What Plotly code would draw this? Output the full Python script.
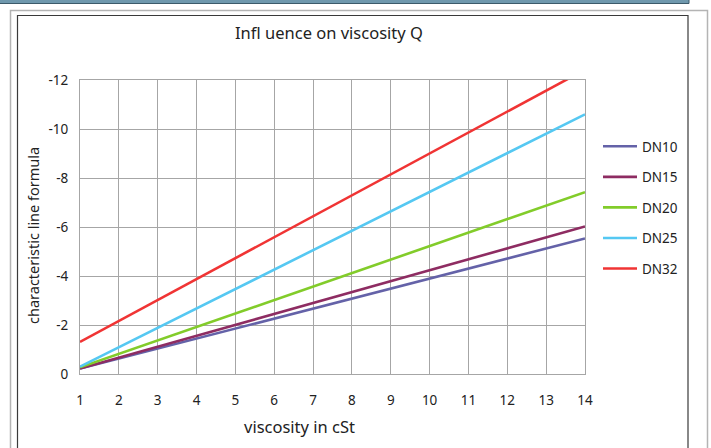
import plotly.graph_objects as go

# Data (straight lines from viscosity 1 to 14)
viscosity = [1, 14]
series_names = ["DN10", "DN15", "DN20", "DN25", "DN32"]
dn10 = [-0.22, -5.53]
dn15 = [-0.22, -6.02]
dn20 = [-0.27, -7.42]
dn25 = [-0.30, -10.6]
dn32 = [-1.31, -12.42]
series_values = [dn10, dn15, dn20, dn25, dn32]
colors = ["#6462a8", "#8e2c62", "#82cc2a", "#55c8f2", "#f03434"]

x_ticks = list(range(1, 15))
y_tickvals = [0, -2, -4, -6, -8, -10, -12]
y_ticktext = ["0", "-2", "-4", "-6", "-8", "-10", "-12"]

title_text = "Inﬂ uence on viscosity Q"
x_title = "viscosity in cSt"
y_title = "characteristic line formula"

FONT = "Noto Sans"
W, H = 711, 448
L, R, T, B = 80, 585, 80, 374  # plot area pixel edges

fig = go.Figure()
for i, (name, vals, col) in enumerate(zip(series_names, series_values, colors)):
    fig.add_trace(go.Scatter(
        x=viscosity, y=vals, mode="lines", name=name,
        line=dict(color=col, width=2.6),
        legendgroup=f"g{i}",
    ))

def px2x(px):
    return (px - L) / (R - L)

def py2y(py):
    return (B - py) / (B - T)

shapes = [
    # top bar
    dict(type="rect", xref="paper", yref="paper",
         x0=px2x(-2), x1=px2x(689), y0=py2y(3.5), y1=py2y(-2),
         fillcolor="#6f98ad", line=dict(color="#3c5a6a", width=1), layer="above"),
    # outer light gray frame
    dict(type="rect", xref="paper", yref="paper",
         x0=px2x(10.5), x1=px2x(707.5), y0=py2y(460), y1=py2y(10.5),
         line=dict(color="#b4b4b4", width=1.5), fillcolor="rgba(0,0,0,0)", layer="above"),
    # inner dark frame
    dict(type="rect", xref="paper", yref="paper",
         x0=px2x(17.5), x1=px2x(688), y0=py2y(460), y1=py2y(15.5),
         line=dict(color="#3a3a3a", width=1.2), fillcolor="rgba(0,0,0,0)", layer="above"),
]

fig.update_layout(
    width=W, height=H,
    margin=dict(l=L, r=W - R, t=T, b=H - B),
    paper_bgcolor="white", plot_bgcolor="white",
    font=dict(family=FONT, size=13.5, color="#222222"),
    shapes=shapes,
    showlegend=True,
    legend=dict(
        x=px2x(598), y=py2y(131), xanchor="left", yanchor="top",
        traceorder="grouped", tracegroupgap=10,
        font=dict(family=FONT, size=13.5, color="#222222"),
        bgcolor="rgba(0,0,0,0)", itemwidth=34,
    ),
    annotations=[
        dict(text=title_text, xref="paper", yref="paper",
             x=px2x(329), y=py2y(33), showarrow=False,
             xanchor="center", yanchor="middle",
             font=dict(family=FONT, size=16.5, color="#222222")),
        dict(text=x_title, xref="paper", yref="paper",
             x=px2x(299), y=py2y(426), showarrow=False,
             xanchor="center", yanchor="middle",
             font=dict(family=FONT, size=16.5, color="#222222")),
        dict(text=y_title, xref="paper", yref="paper",
             x=px2x(33), y=py2y(236), showarrow=False, textangle=-90,
             xanchor="center", yanchor="middle",
             font=dict(family=FONT, size=14.5, color="#222222")),
    ],
    xaxis=dict(
        range=[1, 14], tickvals=x_ticks, ticktext=[str(v) for v in x_ticks],
        showgrid=True, gridcolor="#a6a6a6", gridwidth=1,
        showline=True, linecolor="#a6a6a6", linewidth=1, mirror=True,
        zeroline=False, ticks="", ticklabelstandoff=14,
    ),
    yaxis=dict(
        range=[0, -12], tickvals=y_tickvals, ticktext=y_ticktext,
        showgrid=True, gridcolor="#a6a6a6", gridwidth=1,
        showline=True, linecolor="#a6a6a6", linewidth=1, mirror=True,
        zeroline=False, ticks="", ticklabelstandoff=8,
    ),
)

fig.write_html("out.html", config={"displayModeBar": False},
               post_script="document.body.style.margin='0px';document.body.style.overflow='hidden';")
